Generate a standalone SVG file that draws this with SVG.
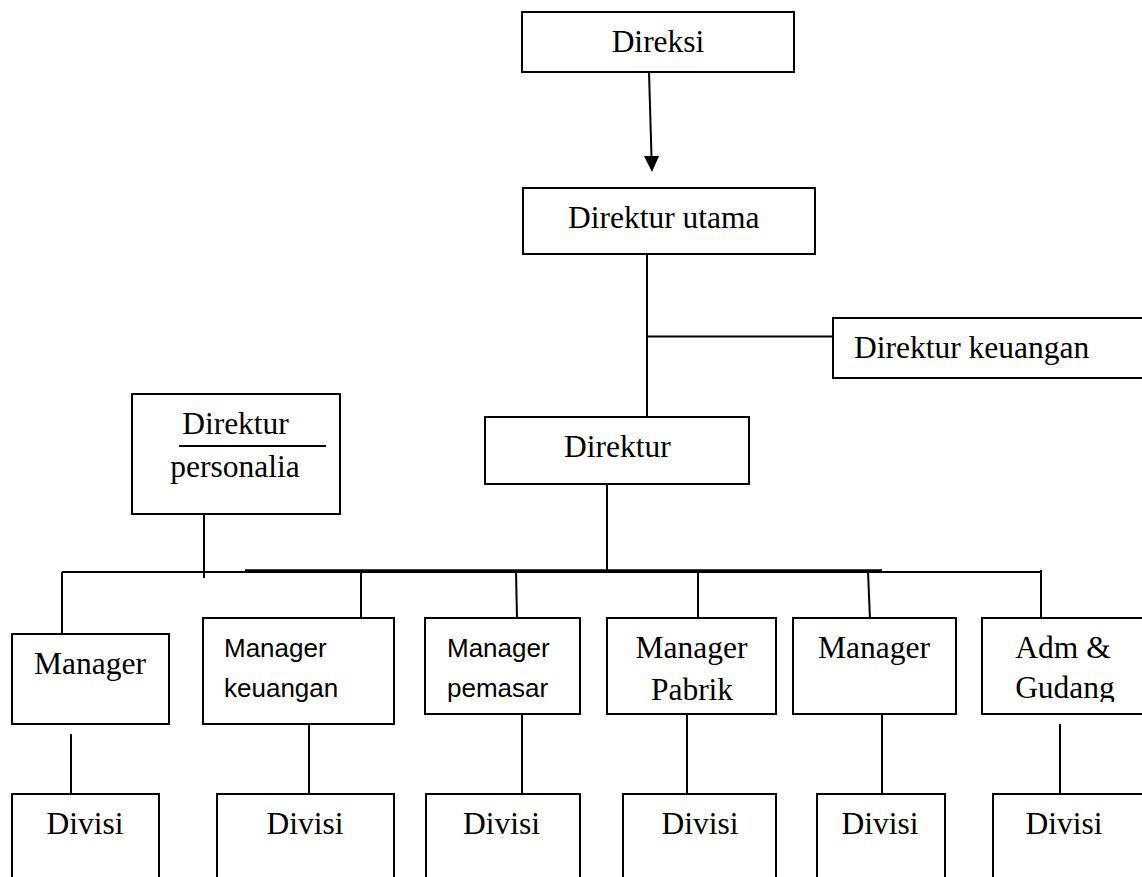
<svg xmlns="http://www.w3.org/2000/svg" width="1142" height="877" viewBox="0 0 1142 877">
<style>
.box{fill:#fff;stroke:#000;stroke-width:2}
.ln{stroke:#000;stroke-width:2;fill:none}
.t{font-family:"Liberation Serif","Times New Roman",serif;font-size:31.5px;fill:#000}
.s{font-family:"Liberation Sans",Arial,sans-serif;font-size:26px;fill:#000}
.m{text-anchor:middle}
</style>
<defs>
<marker id="arr" markerUnits="userSpaceOnUse" markerWidth="16" markerHeight="17" refX="8" refY="16" orient="auto-start-reverse" viewBox="0 0 16 17">
<path d="M0,0 L16,0 L8,16 Z" fill="#000" transform="rotate(-90 8 8)"/>
</marker>
<clipPath id="clipAdm"><rect x="982" y="618" width="170" height="84"/></clipPath>
</defs>
<rect width="1142" height="877" fill="#fff"/>

<g id="connectors">
<line class="ln" x1="649" y1="72" x2="651.5" y2="157"/>
<polygon points="644,156 659,156 652,172" fill="#000"/>
<line class="ln" x1="647" y1="254" x2="647" y2="416"/>
<line class="ln" x1="647" y1="336.5" x2="833" y2="336.5"/>
<line class="ln" x1="607" y1="484" x2="607" y2="571"/>
<line class="ln" x1="204" y1="514" x2="204" y2="578"/>
<line class="ln" x1="62" y1="572" x2="1041" y2="572"/>
<line x1="245" y1="570.5" x2="882" y2="570.5" stroke="#000" stroke-width="2.5"/>
<line class="ln" x1="62" y1="572" x2="62" y2="637"/>
<line class="ln" x1="361" y1="571" x2="361" y2="618"/>
<line class="ln" x1="516" y1="571" x2="517" y2="618"/>
<line class="ln" x1="698" y1="571" x2="698" y2="618"/>
<line class="ln" x1="868" y1="571" x2="870" y2="620"/>
<line class="ln" x1="1041" y1="570" x2="1041" y2="618"/>
<line class="ln" x1="71" y1="734" x2="71" y2="805"/>
<line class="ln" x1="309" y1="724" x2="309" y2="794"/>
<line class="ln" x1="522" y1="714" x2="522" y2="794"/>
<line class="ln" x1="687" y1="714" x2="687" y2="794"/>
<line class="ln" x1="882" y1="714" x2="882" y2="794"/>
<line class="ln" x1="1060" y1="724" x2="1060" y2="805"/>
</g>

<g id="direksi">
<rect class="box" x="522" y="12" width="272" height="60"/>
<text class="t m" x="658" y="51.5">Direksi</text>
</g>
<g id="direktur-utama">
<rect class="box" x="523" y="188" width="292" height="66"/>
<text class="t" x="568" y="228">Direktur utama</text>
</g>
<g id="direktur-keuangan">
<rect class="box" x="833" y="318" width="320" height="60"/>
<text class="t" x="854" y="358">Direktur keuangan</text>
</g>
<g id="direktur">
<rect class="box" x="485" y="417" width="264" height="67"/>
<text class="t" x="564" y="457">Direktur</text>
</g>
<g id="direktur-personalia">
<rect class="box" x="132" y="394" width="208" height="120"/>
<text class="t m" x="235.5" y="434">Direktur</text>
<line class="ln" x1="179" y1="446" x2="326" y2="446"/>
<text class="t m" x="235" y="477">personalia</text>
</g>

<g id="manager-1">
<rect class="box" x="12" y="634" width="157" height="90"/>
<text class="t m" x="90" y="674">Manager</text>
</g>
<g id="manager-keuangan">
<rect class="box" x="203" y="618" width="191" height="106"/>
<text class="s" x="224" y="657">Manager</text>
<text class="s" x="224" y="697">keuangan</text>
</g>
<g id="manager-pemasar">
<rect class="box" x="425" y="618" width="155" height="96"/>
<text class="s" x="447" y="657">Manager</text>
<text class="s" x="447" y="697">pemasar</text>
</g>
<g id="manager-pabrik">
<rect class="box" x="607" y="618" width="169" height="96"/>
<text class="t m" x="691.5" y="658">Manager</text>
<text class="t m" x="692" y="700">Pabrik</text>
</g>
<g id="manager-5">
<rect class="box" x="793" y="618" width="163" height="96"/>
<text class="t m" x="874" y="658">Manager</text>
</g>
<g id="adm-gudang">
<rect class="box" x="982" y="618" width="170" height="96"/>
<text class="t m" x="1063" y="658">Adm &amp;</text>
<text class="t m" x="1065" y="698" clip-path="url(#clipAdm)">Gudang</text>
</g>

<g id="divisi-1">
<rect class="box" x="12" y="794" width="147" height="100"/>
<text class="t m" x="85" y="834">Divisi</text>
</g>
<g id="divisi-2">
<rect class="box" x="217" y="794" width="177" height="100"/>
<text class="t m" x="305" y="834">Divisi</text>
</g>
<g id="divisi-3">
<rect class="box" x="426" y="794" width="154" height="100"/>
<text class="t m" x="501.5" y="834">Divisi</text>
</g>
<g id="divisi-4">
<rect class="box" x="623" y="794" width="153" height="100"/>
<text class="t m" x="700" y="834">Divisi</text>
</g>
<g id="divisi-5">
<rect class="box" x="817" y="794" width="128" height="100"/>
<text class="t m" x="880" y="834">Divisi</text>
</g>
<g id="divisi-6">
<rect class="box" x="993" y="794" width="160" height="100"/>
<text class="t m" x="1064" y="834">Divisi</text>
</g>
</svg>
